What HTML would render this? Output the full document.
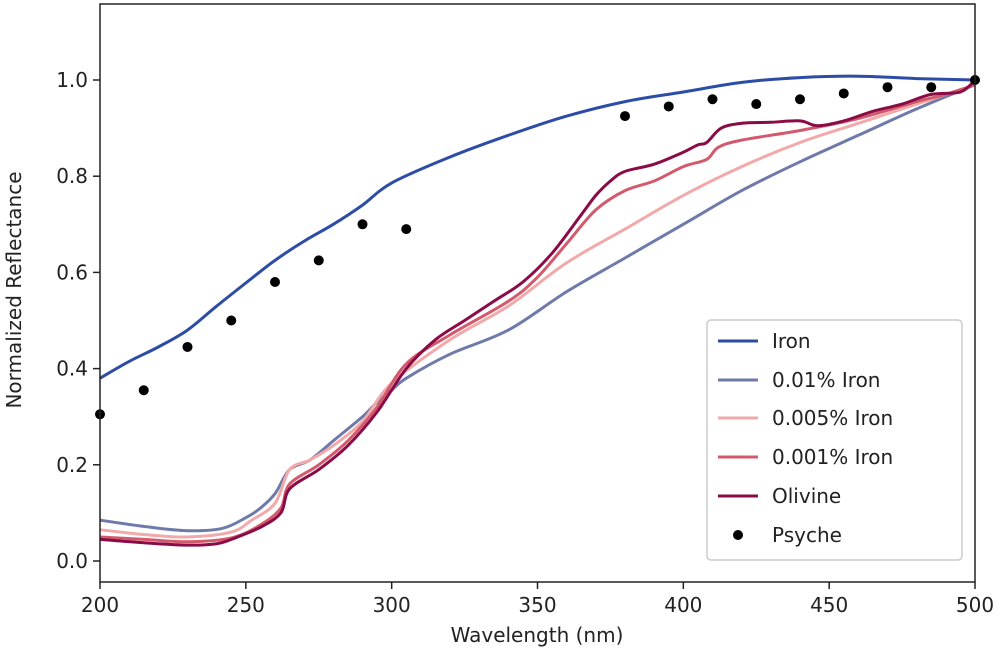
<!DOCTYPE html>
<html><head><meta charset="utf-8"><style>
body{margin:0;background:#fff}
text{font-family:"DejaVu Sans","Liberation Sans",sans-serif;fill:#222}
</style></head><body>
<svg id="chart" width="1000" height="655">
<g id="marks"></g>
<g id="axes"></g>
</svg>
<script>
const ironWl=[200,210,220,230,240,250,260,270,280,290,300,320,340,360,380,400,420,440,460,480,500];
const ironVal=[.38,.415,.445,.48,.53,.578,.625,.665,.70,.74,.786,.84,.885,.925,.955,.975,.995,1.005,1.008,1.003,1.0];
const i01Wl=[200,215,230,242,250,255,260,265,272,280,290,295,300,305,320,340,360,380,400,420,440,460,480,500];
const i01Val=[.085,.072,.063,.068,.09,.11,.14,.19,.21,.25,.30,.33,.355,.38,.43,.48,.56,.63,.70,.77,.83,.885,.94,.99];
const i005Wl=[200,215,230,245,252,260,265,272,280,290,300,320,340,360,380,400,420,440,460,480,500];
const i005Val=[.065,.055,.05,.06,.085,.12,.19,.21,.24,.29,.37,.46,.53,.62,.69,.76,.82,.87,.91,.95,.99];
const i001Wl=[200,215,230,245,255,262,265,275,285,295,305,320,340,350,360,370,380,390,400,408,412,420,440,460,480,490,500];
const i001Val=[.05,.045,.04,.048,.075,.11,.16,.20,.25,.32,.41,.47,.54,.59,.66,.73,.77,.79,.82,.835,.86,.875,.895,.92,.955,.97,.99];
const olivWl=[200,215,230,240,245,255,262,265,275,285,295,305,315,325,335,345,355,365,370,375,380,390,400,405,408,413,420,430,440,446,455,465,475,485,495,500];
const olivVal=[.045,.038,.033,.036,.045,.07,.10,.15,.19,.24,.31,.40,.46,.50,.54,.58,.64,.72,.76,.79,.81,.825,.85,.865,.87,.90,.91,.912,.915,.905,.915,.935,.95,.97,.975,1.0];
const psyWl=[200,215,230,245,260,275,290,305,380,395,410,425,440,455,470,485,500];
const psyVal=[.305,.355,.445,.50,.58,.625,.70,.69,.925,.945,.96,.95,.96,.972,.985,.985,1.0];
const xTicks=[200,250,300,350,400,450,500];
const yTicks=[0.0,0.2,0.4,0.6,0.8,1.0];
const L=100,R=975,T=4,B=582;
const X=w=>L+(w-200)*(R-L)/300;
const Y=v=>561-v*481;
const NS='http://www.w3.org/2000/svg';
const marks=document.getElementById('marks'),axes=document.getElementById('axes');
function mk(t,a,p){const e=document.createElementNS(NS,t);for(const k in a)e.setAttribute(k,a[k]);p.appendChild(e);return e;}
function smooth(pts){
 let d='M'+pts[0][0].toFixed(1)+','+pts[0][1].toFixed(1);
 for(let i=0;i<pts.length-1;i++){
  const p0=pts[Math.max(0,i-1)],p1=pts[i],p2=pts[i+1],p3=pts[Math.min(pts.length-1,i+2)];
  const c1x=p1[0]+(p2[0]-p0[0])/6,c1y=p1[1]+(p2[1]-p0[1])/6;
  const c2x=p2[0]-(p3[0]-p1[0])/6,c2y=p2[1]-(p3[1]-p1[1])/6;
  d+='C'+c1x.toFixed(1)+','+c1y.toFixed(1)+' '+c2x.toFixed(1)+','+c2y.toFixed(1)+' '+p2[0].toFixed(1)+','+p2[1].toFixed(1);
 }
 return d;
}
const series=[[ironWl,ironVal,'#2c4ca6','iron-line'],[i01Wl,i01Val,'#6e7aaa','iron-001pct-line'],[i005Wl,i005Val,'#f2a9aa','iron-0005pct-line'],[i001Wl,i001Val,'#d35a6c','iron-0001pct-line'],[olivWl,olivVal,'#8a0b46','olivine-line']];
series.forEach(s=>{
 const pts=s[0].map((w,i)=>[X(w),Y(s[1][i])]);
 const p=mk('path',{d:smooth(pts),fill:'none',stroke:s[2],'stroke-width':3,'stroke-linejoin':'round'},marks);
 
 
});
psyWl.forEach((w,i)=>{
 const c=mk('circle',{cx:X(w),cy:Y(psyVal[i]),r:5,fill:'#000'},marks);
 
 
});
const fr=mk('rect',{x:L,y:T,width:R-L,height:B-T,fill:'none',stroke:'#222','stroke-width':1.5},axes);


xTicks.forEach(t=>{
 mk('line',{x1:X(t),x2:X(t),y1:B,y2:B+7,stroke:'#222','stroke-width':1.5},axes);
 const tx=mk('text',{x:X(t),y:612,'text-anchor':'middle','font-size':20},axes);tx.textContent=t;
 
 
});
yTicks.forEach(t=>{
 mk('line',{x1:L-7,x2:L,y1:Y(t),y2:Y(t),stroke:'#222','stroke-width':1.5},axes);
 const tx=mk('text',{x:L-12,y:Y(t)+7,'text-anchor':'end','font-size':20},axes);tx.textContent=t.toFixed(1);
 
 
});
const xt=mk('text',{x:537,y:642,'text-anchor':'middle','font-size':20},axes);xt.textContent='Wavelength (nm)';


const yt=mk('text',{x:0,y:0,'text-anchor':'middle','font-size':20,transform:'translate(21,290) rotate(-90)'},axes);yt.textContent='Normalized Reflectance';


const lg=mk('rect',{x:707,y:320,width:255,height:240,rx:4,fill:'#fff',stroke:'#ccc','stroke-width':1.5},axes);


const labels=['Iron','0.01% Iron','0.005% Iron','0.001% Iron','Olivine','Psyche'];
const lys=[341,380,418,457,496,535];
labels.forEach((lb,i)=>{
 if(i<5){const l=mk('line',{x1:718,x2:758,y1:lys[i],y2:lys[i],stroke:series[i][2],'stroke-width':3},axes);
  
  }
 else{const c=mk('circle',{cx:738,cy:lys[i],r:5,fill:'#000'},axes);
  
  }
 const t=mk('text',{x:772,y:lys[i]+7,'font-size':20},axes);t.textContent=lb;
 
 
});
</script>
</body></html>
